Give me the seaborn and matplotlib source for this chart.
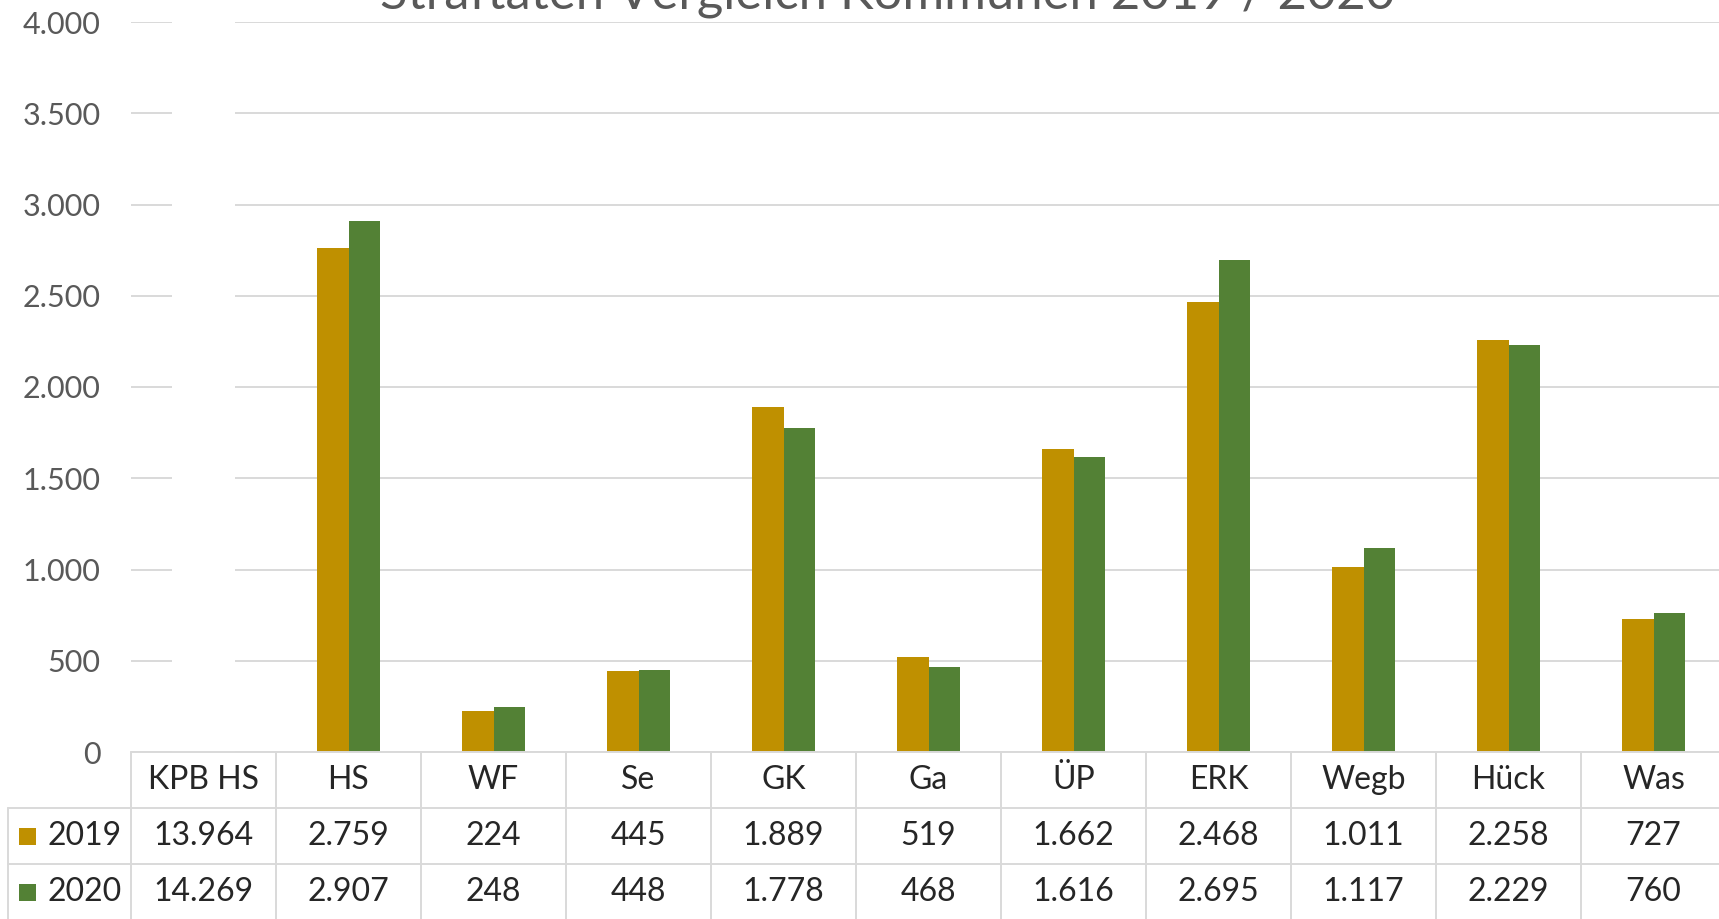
import matplotlib.pyplot as plt
import matplotlib.transforms as mtransforms
from matplotlib.lines import Line2D
from matplotlib.patches import Rectangle
import pandas as pd
import seaborn as sns

# Daten
kommunen = ['KPB HS', 'HS', 'WF', 'Se', 'GK', 'Ga', 'ÜP', 'ERK', 'Wegb', 'Hück', 'Was']
werte_2019 = [13964, 2759, 224, 445, 1889, 519, 1662, 2468, 1011, 2258, 727]
werte_2020 = [14269, 2907, 248, 448, 1778, 468, 1616, 2695, 1117, 2229, 760]
jahre = ['2019', '2020']
farben = ['#BF9000', '#538135']
y_ticks = [0, 500, 1000, 1500, 2000, 2500, 3000, 3500, 4000]

df = pd.DataFrame({
    'Kommune': kommunen * 2,
    'Jahr': [jahre[0]] * len(kommunen) + [jahre[1]] * len(kommunen),
    'Straftaten': werte_2019 + werte_2020,
})

sns.set_theme(style='white')
plt.rcParams['font.family'] = ['Lato', 'DejaVu Sans']

W, H = 1719, 919
fig = plt.figure(figsize=(W / 100, H / 100), dpi=100)
ax_left, ax_bottom, ax_top, ax_width = 131, 752, 22, 1595
ax = fig.add_axes([ax_left / W, 1 - ax_bottom / H, ax_width / W, (ax_bottom - ax_top) / H])

sns.barplot(data=df, x='Kommune', y='Straftaten', hue='Jahr', palette=farben,
            width=0.44, saturation=1, errorbar=None, linewidth=0, legend=False, ax=ax)

# KPB HS liegt weit über der Skala -> Balken unsichtbar (weiß) wie im Original
for cont in ax.containers:
    cont.patches[0].set_facecolor('white')

ax.set_ylim(0, 4000)
ax.set_yticks(y_ticks)
ax.set_yticklabels([f'{v:,}'.replace(',', '.') for v in y_ticks])
ax.set_xticks([])
ax.set_xlim(-0.5, len(kommunen) - 0.5)
ax.set_xlabel('')
ax.set_ylabel('')
ax.set_axisbelow(True)
ax.yaxis.grid(True, color='#D9D9D9', linewidth=1.4)
ax.tick_params(axis='y', length=0, pad=22, labelsize=22, labelcolor='#595959')
for s in ax.spines.values():
    s.set_visible(False)

# Titel (oben abgeschnitten wie im Original)
fig.text(888 / W, 1 - 9 / H, 'Straftaten Vergleich Kommunen 2019 / 2020',
         ha='center', va='baseline', fontsize=36.5, color='#595959')

# Datentabelle
trans = mtransforms.blended_transform_factory(ax.transData, fig.transFigure)
grid_col = '#D9D9D9'
txt_col = '#262626'
fy = lambda px: 1 - px / H
rows = [752, 808, 864, 920]

ax.plot([-0.5, len(kommunen) + 0.5], [fy(rows[0])] * 2, transform=trans, color=grid_col, lw=1.4, clip_on=False)
for r in rows[1:3]:
    fig.add_artist(Line2D([8 / W, 1], [fy(r)] * 2, color=grid_col, lw=1.4))
for i in range(len(kommunen) + 1):
    ax.plot([i - 0.5] * 2, [fy(rows[0]), fy(rows[3])], transform=trans, color=grid_col, lw=1.4, clip_on=False)
fig.add_artist(Line2D([8 / W] * 2, [fy(rows[1]), fy(rows[3])], color=grid_col, lw=1.4))

for i, name in enumerate(kommunen):
    ax.text(i, fy(780), name, transform=trans, ha='center', va='center', fontsize=23, color=txt_col)
for r, (jahr, werte, farbe) in enumerate(zip(jahre, [werte_2019, werte_2020], farben)):
    yc = fy((rows[r + 1] + rows[r + 2]) / 2)
    for i, v in enumerate(werte):
        ax.text(i, yc, f'{v:,}'.replace(',', '.'), transform=trans, ha='center', va='center',
                fontsize=23, color=txt_col)
    fig.add_artist(Rectangle((19 / W, yc - 8.5 / H), 17 / W, 17 / H, facecolor=farbe, edgecolor='none'))
    fig.text(47 / W, yc, jahr, ha='left', va='center', fontsize=23, color=txt_col)

fig.savefig('out.png', dpi=100)
